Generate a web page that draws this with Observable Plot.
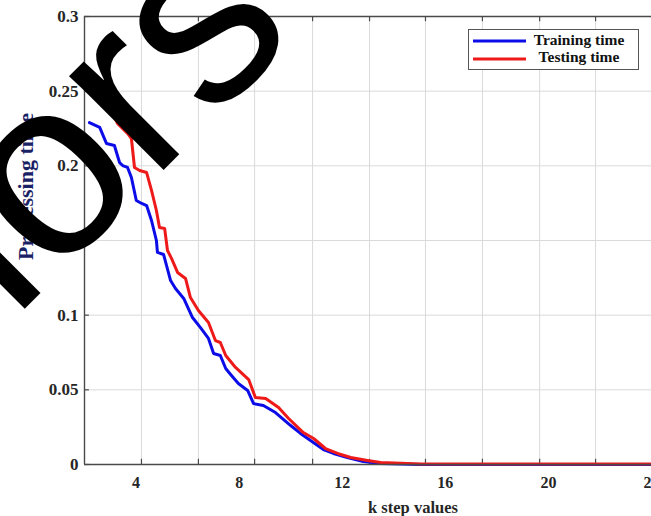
<!DOCTYPE html>
<html>
<head>
<meta charset="utf-8">
<script src="https://cdn.jsdelivr.net/npm/d3@7"></script>
<script src="https://cdn.jsdelivr.net/npm/@observablehq/plot@0.6"></script>
<style>
  html, body { margin: 0; padding: 0; background: #fff; overflow: hidden; }
  #wrap { position: relative; width: 651px; height: 516px; overflow: hidden; }
  #wrap > svg { position: absolute; left: 0; top: 0; }
</style>
</head>
<body>
<div id="wrap"></div>
<script>
// ---- data ----
const seriesNames = ["Training time", "Testing time"];
const seriesColors = ["#0c0ce8", "#ee1a1a"];

const kTrain = [2.19,2.59,2.85,3.16,3.36,3.48,3.67,3.82,4.01,4.22,4.41,4.60,4.79,4.83,5.07,5.34,5.53,5.85,6.19,6.50,6.81,7.01,7.27,7.48,7.67,7.97,8.33,8.56,8.94,9.41,10.00,10.38,10.77,11.27,11.66,12.20,12.82,13.49,15.04,24.0];
const trainTime = [0.2290,0.2257,0.2150,0.2136,0.2022,0.2002,0.1989,0.1922,0.1768,0.1748,0.1734,0.1634,0.1500,0.1420,0.1406,0.1232,0.1179,0.1112,0.0984,0.0917,0.0844,0.0743,0.0730,0.0643,0.0603,0.0542,0.0496,0.0408,0.0395,0.0348,0.0261,0.0208,0.0161,0.0100,0.0074,0.0047,0.0020,0.0007,0.0000,0.0000];

const kTest = [2.19,2.85,3.28,3.67,3.82,3.94,4.14,4.41,4.60,4.79,4.91,5.11,5.22,5.38,5.61,5.92,6.11,6.42,6.81,7.08,7.27,7.48,7.86,8.37,8.63,9.03,9.53,9.92,10.49,10.89,11.35,11.82,12.33,12.98,13.49,15.04,24.0];
const testTime = [0.2572,0.2438,0.2284,0.2217,0.2183,0.1989,0.1969,0.1955,0.1835,0.1701,0.1587,0.1580,0.1433,0.1379,0.1286,0.1246,0.1118,0.1031,0.0951,0.0830,0.0817,0.0730,0.0650,0.0569,0.0449,0.0442,0.0382,0.0308,0.0214,0.0174,0.0107,0.0074,0.0047,0.0027,0.0013,0.0003,0.0003];

const xTickLabels = [4, 8, 12, 16, 20, 24];
const yTicks = [0, 0.05, 0.1, 0.15, 0.2, 0.25, 0.3];
const xGrid = [4.21, 6.42, 8.60, 10.85, 13.06, 15.23, 17.44, 19.66, 21.83];
const xTitle = "k step values";
const yTitle = "Processing time";
const watermark = ["Auth", "ors"];

// ---- build ----
const train = kTrain.map((k, i) => ({k, t: trainTime[i]}));
const test = kTest.map((k, i) => ({k, t: testTime[i]}));
const xDomain = [2, 24.0];
const gridColor = "#dadada";
const axisColor = "#4a4a4a";
const serif = "'Liberation Serif', 'Times New Roman', serif";

const chart = Plot.plot({
  width: 651,
  height: 516,
  marginLeft: 84,
  marginRight: 0,
  marginTop: 16,
  marginBottom: 52,
  x: {domain: xDomain, axis: null},
  y: {domain: [0, 0.3], axis: null},
  style: {fontFamily: serif, fontWeight: "bold", background: "white", overflow: "visible"},
  marks: [
    Plot.ruleX(xGrid, {stroke: gridColor, strokeWidth: 1}),
    Plot.ruleY(yTicks.filter(d => d > 0 && d < 0.3), {stroke: gridColor, strokeWidth: 1}),
    // tick marks (inside)
    Plot.ruleX(xGrid, {y1: 0, y2: 0.0035, stroke: axisColor, strokeWidth: 1.2}),
    Plot.ruleX(xGrid, {y1: 0.3, y2: 0.2965, stroke: axisColor, strokeWidth: 1.2}),
    Plot.ruleY(yTicks, {x1: xDomain[0], x2: xDomain[0] + 0.19, stroke: axisColor, strokeWidth: 1.2}),
    // series
    Plot.line(train, {x: "k", y: "t", stroke: seriesColors[0], strokeWidth: 3, strokeLinejoin: "round"}),
    Plot.line(test, {x: "k", y: "t", stroke: seriesColors[1], strokeWidth: 3, strokeLinejoin: "round"}),
    // frame
    Plot.ruleX([xDomain[0]], {stroke: axisColor, strokeWidth: 1.4}),
    Plot.ruleY([0, 0.3], {stroke: axisColor, strokeWidth: 1.4}),
    // tick labels
    Plot.text(yTicks, {x: xDomain[0], y: d => d, text: d => String(d), textAnchor: "end", dx: -6, fontSize: 17, fill: "#262626"}),
    Plot.text(xTickLabels, {x: d => d, y: 0, text: d => String(d), dy: 18.5, fontSize: 16, fill: "#262626"})
  ]
});

const wrap = document.getElementById("wrap");
wrap.appendChild(chart);

// overlay: titles, legend, watermark
const svg = d3.select(wrap).append("svg")
  .attr("width", 651).attr("height", 516)
  .style("pointer-events", "none");

svg.append("text")
  .attr("x", 413).attr("y", 512.5)
  .attr("text-anchor", "middle")
  .attr("font-family", serif).attr("font-weight", "bold").attr("font-size", 16.5)
  .attr("fill", "#262626")
  .text(xTitle);

svg.append("text")
  .attr("transform", "translate(33,186.5) rotate(-90)")
  .attr("text-anchor", "middle")
  .attr("font-family", serif).attr("font-weight", "bold").attr("font-size", 22)
  .attr("fill", "#1a2266")
  .text(yTitle);

const lg = svg.append("g");
lg.append("rect").attr("x", 468.5).attr("y", 29.5).attr("width", 170).attr("height", 40)
  .attr("fill", "white").attr("stroke", "#555").attr("stroke-width", 1);
seriesNames.forEach((name, i) => {
  const cy = i === 0 ? 41 : 59;
  lg.append("line").attr("x1", 473).attr("x2", 526).attr("y1", cy).attr("y2", cy)
    .attr("stroke", seriesColors[i]).attr("stroke-width", 3);
  lg.append("text").attr("x", 579).attr("y", cy + 3.5 + (i === 0 ? 0 : -0.5))
    .attr("text-anchor", "middle")
    .attr("font-family", serif).attr("font-weight", "bold").attr("font-size", 15.5)
    .attr("fill", "#111").text(name);
});

// watermark (large rotated black text)
const wm = svg.append("g").attr("transform", "translate(52.2,281.4) rotate(-45)")
  .attr("font-family", "'Liberation Sans', Arial, sans-serif").attr("font-size", 252).attr("fill", "#000");
wm.append("text").attr("x", 0).attr("y", 0).attr("text-anchor", "end").text(watermark[0]);
wm.append("text").attr("x", 0).attr("y", 0).attr("text-anchor", "start").text(watermark[1]);
</script>
</body>
</html>
